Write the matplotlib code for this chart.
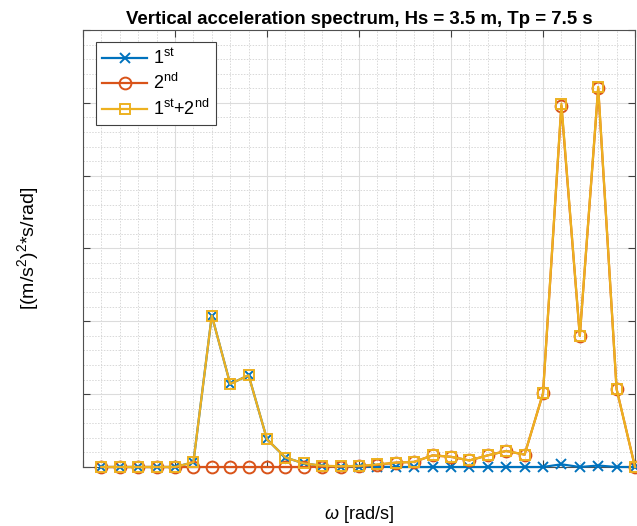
import matplotlib
matplotlib.use("Agg")
import matplotlib.pyplot as plt
from matplotlib.ticker import MultipleLocator, NullFormatter

omega = [0.1, 0.2, 0.3, 0.4, 0.5, 0.6, 0.7, 0.8, 0.9, 1.0,
         1.1, 1.2, 1.3, 1.4, 1.5, 1.6, 1.7, 1.8, 1.9, 2.0,
         2.1, 2.2, 2.3, 2.4, 2.5, 2.6, 2.7, 2.8, 2.9, 3.0]
first = [0, 0, 0, 0, 0, 0.065, 2.08, 1.14, 1.26, 0.38,
         0.13, 0.05, 0.015, 0.005, 0.005, 0.003, 0, 0, 0, 0,
         0, 0, 0, 0, 0, 0.037, 0, 0.02, 0, 0]
second = [0, 0, 0, 0, 0, 0, 0, 0, 0, 0,
          0, 0, 0.003, 0.005, 0.01, 0.03, 0.06, 0.07, 0.16, 0.14,
          0.09, 0.16, 0.22, 0.17, 1.01, 4.96, 1.80, 5.20, 1.07, 0]
total = [0, 0, 0, 0, 0, 0.065, 2.08, 1.14, 1.26, 0.38,
         0.13, 0.05, 0.018, 0.01, 0.015, 0.035, 0.06, 0.07, 0.16, 0.14,
         0.09, 0.16, 0.22, 0.17, 1.01, 4.99, 1.80, 5.22, 1.07, 0]

labels = [r"1$^{\mathregular{st}}$", r"2$^{\mathregular{nd}}$",
          r"1$^{\mathregular{st}}$+2$^{\mathregular{nd}}$"]
title = "Vertical acceleration spectrum, Hs = 3.5 m, Tp = 7.5 s"

plt.rcParams['font.family'] = ['Liberation Sans', 'DejaVu Sans']
plt.rcParams['mathtext.fontset'] = 'custom'
plt.rcParams['mathtext.rm'] = 'Liberation Sans'
plt.rcParams['mathtext.it'] = 'Liberation Sans:italic'

c1, c2, c3 = '#0072BD', '#D95319', '#EDB120'

fig = plt.figure(figsize=(6.37, 5.26), dpi=100)
ax = fig.add_axes([83/637, 59/526, 552/637, 437/526])

ax.plot(omega, first, color=c1, marker='x', ms=6.5, mew=1.4, lw=1.6, label=labels[0], clip_on=False, zorder=3)
ax.plot(omega, second, color=c2, marker='o', ms=8.5, mfc='none', mew=1.4, lw=1.6, label=labels[1], clip_on=False, zorder=4)
ax.plot(omega, total, color=c3, marker='s', ms=7.5, mfc='none', mew=1.4, lw=1.6, label=labels[2], clip_on=False, zorder=5)

ax.set_xlim(0, 3.0)
ax.set_ylim(0, 6)
ax.xaxis.set_major_locator(MultipleLocator(0.5))
ax.xaxis.set_minor_locator(MultipleLocator(0.1))
ax.yaxis.set_major_locator(MultipleLocator(1))
ax.yaxis.set_minor_locator(MultipleLocator(0.2))
ax.xaxis.set_major_formatter(NullFormatter())
ax.yaxis.set_major_formatter(NullFormatter())
ax.tick_params(which='major', direction='in', length=5, width=0.8, color='#404040',
               top=True, right=True)
ax.tick_params(which='minor', length=0, top=True, right=True)
ax.grid(which='major', color='#dcdcdc', lw=0.8, ls='-')
ax.grid(which='minor', color='#d8d8d8', lw=0.7, ls=(0, (1.5, 1.5)))
ax.set_axisbelow(True)
for s in ax.spines.values():
    s.set_color('#505050')
    s.set_linewidth(0.8)

ax.set_title(title, fontsize=13.4, fontweight='bold', pad=4)
ax.set_xlabel(r"$\omega$ [rad/s]", fontsize=13, labelpad=23)
ax.set_ylabel(r"[(m/s$^{\mathregular{2}}$)$^{\mathregular{2}}$*s/rad]", fontsize=14, labelpad=27)

leg = ax.legend(loc='upper left', bbox_to_anchor=(0.0236, 0.9725), fontsize=13,
                handlelength=2.5, handletextpad=0.3, borderaxespad=0, fancybox=False,
                framealpha=1, edgecolor='#404040', labelspacing=0.3, borderpad=0.35)
leg.get_frame().set_linewidth(0.8)

fig.savefig("out.png", dpi=100)
